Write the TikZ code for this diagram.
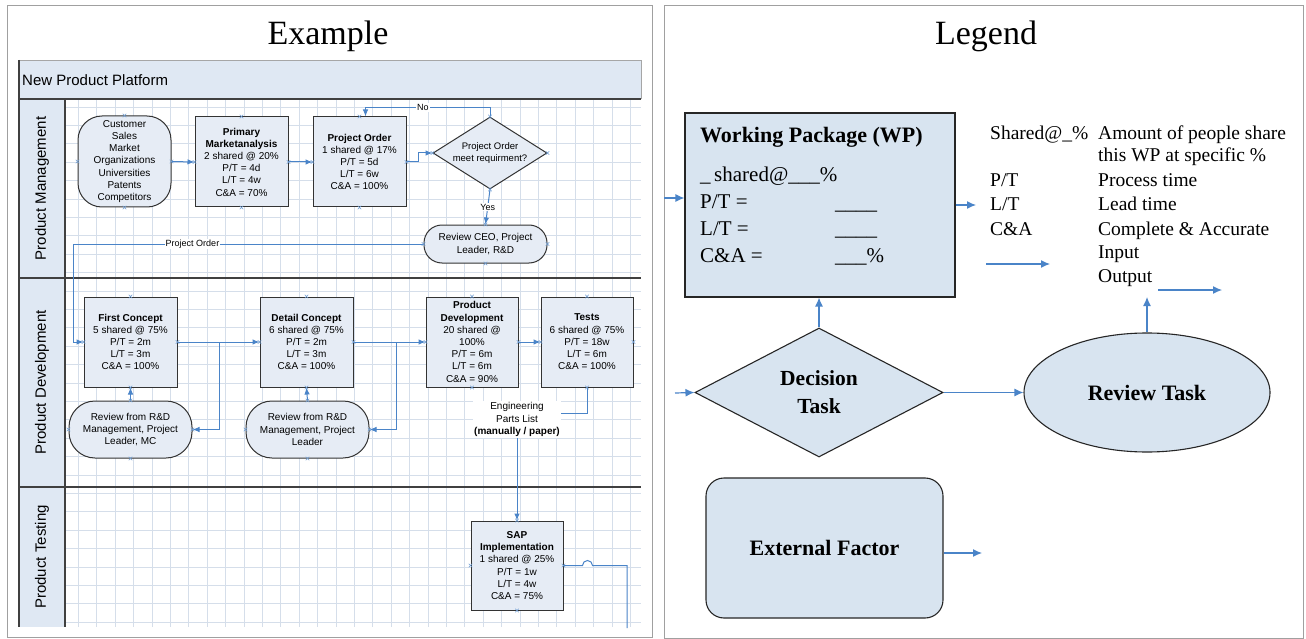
\documentclass[tikz,border=0pt]{standalone}
\usepackage{fontspec}
\setmainfont{Liberation Serif}
\newfontfamily\arialf{Liberation Sans}
\usetikzlibrary{shapes.geometric,arrows.meta}

\definecolor{flowc}{HTML}{4A84C8}
\definecolor{boxc}{HTML}{E6ECF5}
\definecolor{legc}{HTML}{D8E4F0}
\definecolor{lanec}{HTML}{DFE8F3}
\definecolor{gridc}{HTML}{D5DEEA}
\definecolor{framec}{HTML}{A0A0A0}

\begin{document}
\begin{tikzpicture}[x=1pt, y=-1pt,
  task/.style={draw=black!80, fill=boxc, line width=1pt, minimum width=93pt, minimum height=90pt,
    inner sep=1pt, align=center, font=\arialf\fontsize{10}{12.2}\selectfont},
  review/.style={task, rounded corners=26pt, minimum width=123pt, minimum height=57pt},
  decide/.style={task, diamond, aspect=1.58, inner sep=0pt, minimum width=114pt, minimum height=72pt,
    font=\arialf\fontsize{9.5}{12}\selectfont},
  flow/.style={draw=flowc, line width=1pt, -{Latex[length=7pt,width=5.5pt]}},
  link/.style={draw=flowc, line width=1pt},
  lbl/.style={fill=white, inner sep=1pt, font=\arialf\fontsize{9}{10}\selectfont},
  xmk/.style={draw=flowc!80, line width=0.5pt},
  lanelbl/.style={rotate=90, font=\arialf\fontsize{15}{18}\selectfont},
  legbox/.style={draw=black!85, fill=legc, line width=1.1pt},
  legtxt/.style={anchor=base west, inner sep=0pt, font=\fontsize{19.5}{23.6}\selectfont},
  wptxt/.style={anchor=base west, inner sep=0pt, font=\fontsize{21}{26}\selectfont},
  bigflow/.style={draw=flowc, line width=1.2pt, -{Latex[length=9pt,width=8pt]}}]

\fill[white] (0,0) rectangle (1306,639);
\useasboundingbox (0,0) rectangle (1306,639);

% the two panels
\draw[framec, line width=1pt] (7,6) rectangle (652,637);
\draw[framec, line width=1pt] (664,6) rectangle (1303,638);
\node[font=\fontsize{34}{40}\selectfont] (extitle) at (328,36) {Example};
\node[font=\fontsize{34}{40}\selectfont] (legtitle) at (986,36) {Legend};

% swimlanes
\fill[lanec] (19,60) rectangle (641,99);
\fill[lanec] (19,99) rectangle (65,627);
\foreach \k in {0,...,30}
  \draw[gridc, line width=0.5pt] (78.3+18.4*\k,99) -- (78.3+18.4*\k,627);
\foreach \k in {-21,...,7}
  \draw[gridc, line width=0.5pt] (65,493.3+18.4*\k) -- (641,493.3+18.4*\k);
\draw[black!35, line width=0.6pt] (19,60) -- (641,60) -- (641,99);
\draw[black!75, line width=1.3pt] (19,60) -- (19,627) (19,99) -- (641,99) (65,99) -- (65,627)
  (19,278) -- (641,278) (19,487) -- (641,487);
\node[anchor=west, inner sep=0pt, font=\arialf\fontsize{15}{18}\selectfont] (npp) at (22,80) {New Product Platform};
\node[lanelbl] (lpm) at (42,188.5) {Product Management};
\node[lanelbl] (lpd) at (42,382.5) {Product Development};
\node[lanelbl] (lpt) at (42,557) {Product Testing};

% product management
\node[task, rounded corners=24pt, minimum height=91pt] (cust) at (124.5,161.5)
  {Customer\\Sales\\Market\\Organizations\\Universities\\Patents\\Competitors};
\node[task] (prim) at (241.5,162)
  {{\bfseries Primary}\\{\bfseries Marketanalysis}\\2 shared @ 20\%\\P/T = 4d\\L/T = 4w\\C\&A = 70\%};
\node[task] (pord) at (359.5,162)
  {{\bfseries Project Order}\\1 shared @ 17\%\\P/T = 5d\\L/T = 6w\\C\&A = 100\%};
\node[decide] (dec) at (490,153) {Project Order\\meet requirment?};
\node[review, rounded corners=18pt, minimum height=38pt] (rceo) at (485.5,244) {Review CEO, Project\\Leader, R\&D};

% product development
\node[task] (fcon) at (130.5,342)
  {{\bfseries First Concept}\\5 shared @ 75\%\\P/T = 2m\\L/T = 3m\\C\&A = 100\%};
\node[review] (rev1) at (130.5,429.5) {Review from R\&D\\Management, Project\\Leader, MC};
\node[task] (dcon) at (306.5,342)
  {{\bfseries Detail Concept}\\6 shared @ 75\%\\P/T = 2m\\L/T = 3m\\C\&A = 100\%};
\node[review] (rev2) at (307.5,429.5) {Review from R\&D\\Management, Project\\Leader};
\node[task, minimum width=92pt] (pdev) at (472,342)
  {{\bfseries Product}\\{\bfseries Development}\\20 shared @\\100\%\\P/T = 6m\\L/T = 6m\\C\&A = 90\%};
\node[task, minimum width=92pt] (tests) at (587,342)
  {{\bfseries Tests}\\6 shared @ 75\%\\P/T = 18w\\L/T = 6m\\C\&A = 100\%};
\node[fill=white, inner sep=1pt, align=center, font=\arialf\fontsize{10}{12.5}\selectfont] (eng) at (517,419.5)
  {Engineering\\Parts List\\{\bfseries (manually / paper)}};

% product testing
\node[task, minimum width=92pt, minimum height=89pt] (sap) at (517,565.5)
  {{\bfseries SAP}\\{\bfseries Implementation}\\1 shared @ 25\%\\P/T = 1w\\L/T = 4w\\C\&A = 75\%};
\coordinate (sapout) at (627,628);

\draw[flow] (cust.east) -- (prim.west);
\draw[flow] (prim.east) -- (pord.west);
\draw[flow] (pord.east) -- ++(12,0) |- (dec.west);
\draw[flow] (dec.north) -- ++(0,-9) -| node[lbl, pos=0.27] {No} ([xshift=6pt]pord.north);
\draw[flow] (dec.south) -- node[lbl] {Yes} (rceo.north);
\draw[flow] (rceo.west) -| node[lbl, pos=0.33] {Project Order} ([xshift=-10pt]fcon.west) -- (fcon.west);
\draw[flow] (fcon.east) -- (dcon.west);
\draw[flow] ([xshift=42pt]fcon.east) |- (rev1.east);
\draw[flow] (rev1.north) -- (fcon.south);
\draw[flow] (dcon.east) -- (pdev.west);
\draw[flow] ([xshift=43pt]dcon.east) |- (rev2.east);
\draw[flow] (rev2.north) -- (dcon.south);
\draw[flow] (pdev.east) -- (tests.west);
\draw[link] (tests.south) |- ([yshift=6pt]eng.east);
\draw[flow] (eng.south) -- (sap.north);
\draw[link] (sap.east) -- ++(19,0) arc[start angle=180, end angle=0, radius=5pt] -| (sapout);

% connection points
\foreach \n in {cust,prim,pord,dec,rceo,fcon,rev1,dcon,rev2,pdev,tests,sap}
  \foreach \a in {north,south,east,west}
    \draw[xmk] (\n.\a) +(-1.8,-1.8) -- +(1.8,1.8) +(-1.8,1.8) -- +(1.8,-1.8);

% legend
\node[legbox, minimum width=270pt, minimum height=184pt] (wp) at (820,205) {};
\node[wptxt, font=\bfseries\fontsize{22}{26}\selectfont] (wptitle) at (700,143) {Working Package (WP)};
\node[wptxt] (wpsh) at (700,182) {\_\,shared@\_\_\_\%};
\node[wptxt] (wppt) at (700,208) {P/T =};
\node[wptxt] (wplt) at (700,235) {L/T =};
\node[wptxt] (wpca) at (700,262) {C\&A =};
\node[wptxt] (wpb1) at (835,210) {\_\_\_\_};
\node[wptxt] (wpb2) at (835,236) {\_\_\_\_};
\node[wptxt] (wpb3) at (835,262) {\_\_\_\%};

\node[legtxt] (kshared) at (990,140) {Shared@\_\%};
\node[legtxt] (dshared) at (1098,140) {Amount of people share};
\node[legtxt] (dshared2) at (1098,162) {this WP at specific \%};
\node[legtxt] (kpt) at (990,187) {P/T};
\node[legtxt] (dpt) at (1098,187) {Process time};
\node[legtxt] (klt) at (990,211) {L/T};
\node[legtxt] (dlt) at (1098,211) {Lead time};
\node[legtxt] (kca) at (990,235) {C\&A};
\node[legtxt] (dca) at (1098,235) {Complete \& Accurate};
\node[legtxt] (din) at (1098,258) {Input};
\node[legtxt] (dout) at (1098,282) {Output};

\node[legbox, diamond, aspect=1.92, inner sep=0pt, minimum width=248pt, minimum height=129pt, align=center,
  font=\bfseries\fontsize{21.5}{28}\selectfont] (dt) at (819,392.5) {Decision\\Task};
\node[legbox, ellipse, inner sep=0pt, minimum width=246pt, minimum height=119pt,
  font=\bfseries\fontsize{22}{26}\selectfont] (rt) at (1147,392.5) {Review Task};
\node[legbox, rounded corners=18pt, minimum width=237pt, minimum height=140pt,
  font=\bfseries\fontsize{22}{26}\selectfont] (ext) at (824.5,548) {External Factor};

\coordinate (wpin) at (664,198);
\coordinate (wpout) at (976,205);
\coordinate (dtin) at (675,393);
\coordinate (rtout) at (1147,297);
\coordinate (extout) at (982,553);
\coordinate (inA) at (986,264);
\coordinate (inB) at (1050,264);
\coordinate (outA) at (1158,290);
\coordinate (outB) at (1222,290);

\draw[bigflow] (wpin) -- (wpin -| wp.west);
\draw[bigflow] (wp.east) -- (wpout);
\draw[bigflow] (dt.north) -- (dt.north |- wp.south);
\draw[bigflow] (dtin) -- (dt.west);
\draw[bigflow] (dt.east) -- (rt.west);
\draw[bigflow] (rt.north) -- (rtout);
\draw[bigflow] (ext.east |- extout) -- (extout);
\draw[bigflow] (inA) -- (inB);
\draw[bigflow] (outA) -- (outB);

\end{tikzpicture}
\end{document}
